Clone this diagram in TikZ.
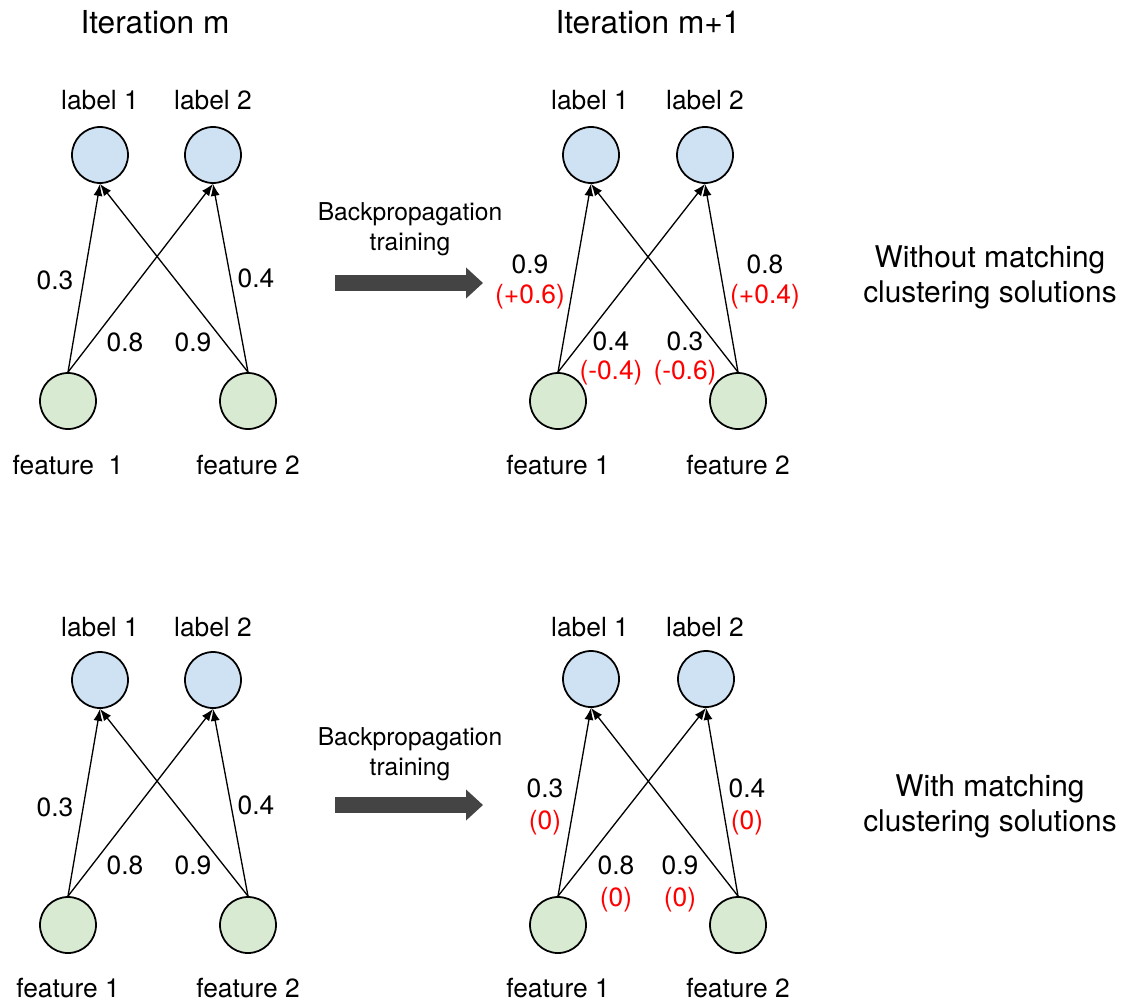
\documentclass[tikz,border=0pt]{standalone}
\usepackage{fontspec}
\setmainfont{TeX Gyre Heros}
\usetikzlibrary{arrows.meta}

\definecolor{lblue}{HTML}{CFE2F3}
\definecolor{lgreen}{HTML}{D9EAD3}
\definecolor{bpgray}{HTML}{444444}

\tikzset{
  outnode/.style={circle, draw, line width=1pt, fill=lblue, minimum size=1.12cm, inner sep=0pt},
  innode/.style={circle, draw, line width=1pt, fill=lgreen, minimum size=1.12cm, inner sep=0pt},
  wedge/.style={-{Latex[length=2.4mm,width=1.8mm]}, line width=0.75pt},
  txt/.style={font=\fontsize{15}{18}\selectfont, inner sep=1pt},
  delta/.style={txt, text=red},
  ttl/.style={font=\fontsize{18}{21}\selectfont},
  side/.style={font=\fontsize{17}{20}\selectfont, align=center},
  bptxt/.style={font=\fontsize{14}{17}\selectfont, align=center},
  bparrow/.style={draw=bpgray, line width=0.32cm, -{Triangle[length=0.34cm,width=0.6cm]}}
}

\begin{document}
\begin{tikzpicture}
      \useasboundingbox (0,0) rectangle (22.52,-20.06);

      % titulos
      \node[ttl] (titm) at (3.1,-0.44) {Iteration m};
      \node[ttl] (titmm) at (12.96,-0.44) {Iteration m+1};

      %%%%%% arriba izquierda
      \node[outnode] (al1) at (2.0,-3.1) {};
      \node[outnode] (al2) at (4.26,-3.1) {};
      \node[innode] (af1) at (1.36,-8.02) {};
      \node[innode] (af2) at (4.96,-8.02) {};
      \node[txt] (tal1) at (2.0,-2.0) {label 1};
      \node[txt] (tal2) at (4.26,-2.0) {label 2};
      \node[txt] (taf1) at (1.36,-9.3) {feature\ \ 1};
      \node[txt] (taf2) at (4.96,-9.3) {feature 2};

      \draw[wedge] (af1.north) -- (al1.south);
      \draw[wedge] (af1.north) -- (al2.south);
      \draw[wedge] (af2.north) -- (al1.south);
      \draw[wedge] (af2.north) -- (al2.south);

      \node[txt] (aw11) at (1.1,-5.6) {0.3};
      \node[txt] (aw22) at (5.12,-5.56) {0.4};
      \node[txt] (aw12) at (2.5,-6.84) {0.8};
      \node[txt] (aw21) at (3.86,-6.84) {0.9};

      % flecha backpropagation arriba
      \coordinate (abp1) at (6.7,-5.66);
      \coordinate (abp2) at (9.66,-5.66);
      \draw[bparrow] (abp1) -- (abp2);
      \node[bptxt] (tabp) at (8.2,-4.58) {Backpropagation\\training};

      %%%%%% arriba derecha
      \node[outnode] (bl1) at (11.82,-3.1) {};
      \node[outnode] (bl2) at (14.1,-3.1) {};
      \node[innode] (bf1) at (11.16,-8.02) {};
      \node[innode] (bf2) at (14.76,-8.02) {};
      \node[txt] (tbl1) at (11.8,-2.0) {label 1};
      \node[txt] (tbl2) at (14.1,-2.0) {label 2};
      \node[txt] (tbf1) at (11.16,-9.3) {feature 1};
      \node[txt] (tbf2) at (14.76,-9.3) {feature 2};

      \draw[wedge] (bf1.north) -- (bl1.south);
      \draw[wedge] (bf1.north) -- (bl2.south);
      \draw[wedge] (bf2.north) -- (bl1.south);
      \draw[wedge] (bf2.north) -- (bl2.south);

      \node[txt] (bw11) at (10.6,-5.28) {0.9};
      \node[delta] (bd11) at (10.6,-5.94) {(+0.6)};
      \node[txt] (bw22) at (15.3,-5.28) {0.8};
      \node[delta] (bd22) at (15.3,-5.94) {(+0.4)};
      \node[txt] (bw12) at (12.22,-6.82) {0.4};
      \node[delta] (bd12) at (12.22,-7.46) {(-0.4)};
      \node[txt] (bw21) at (13.7,-6.82) {0.3};
      \node[delta] (bd21) at (13.7,-7.46) {(-0.6)};

      \node[side] (tsin) at (19.8,-5.55) {Without matching\\clustering solutions};

      %%%%%% abajo izquierda
      \node[outnode] (cl1) at (2.0,-13.6) {};
      \node[outnode] (cl2) at (4.26,-13.6) {};
      \node[innode] (cf1) at (1.36,-18.5) {};
      \node[innode] (cf2) at (4.96,-18.5) {};
      \node[txt] (tcl1) at (2.0,-12.54) {label 1};
      \node[txt] (tcl2) at (4.26,-12.54) {label 2};
      \node[txt] (tcf1) at (1.36,-19.76) {feature 1};
      \node[txt] (tcf2) at (4.96,-19.76) {feature 2};

      \draw[wedge] (cf1.north) -- (cl1.south);
      \draw[wedge] (cf1.north) -- (cl2.south);
      \draw[wedge] (cf2.north) -- (cl1.south);
      \draw[wedge] (cf2.north) -- (cl2.south);

      \node[txt] (cw11) at (1.1,-16.14) {0.3};
      \node[txt] (cw22) at (5.12,-16.1) {0.4};
      \node[txt] (cw12) at (2.5,-17.3) {0.8};
      \node[txt] (cw21) at (3.86,-17.3) {0.9};

      % flecha backpropagation abajo
      \coordinate (cbp1) at (6.7,-16.1);
      \coordinate (cbp2) at (9.66,-16.1);
      \draw[bparrow] (cbp1) -- (cbp2);
      \node[bptxt] (tcbp) at (8.2,-15.08) {Backpropagation\\training};

      %%%%%% abajo derecha
      \node[outnode] (dl1) at (11.82,-13.58) {};
      \node[outnode] (dl2) at (14.12,-13.58) {};
      \node[innode] (df1) at (11.16,-18.5) {};
      \node[innode] (df2) at (14.76,-18.5) {};
      \node[txt] (tdl1) at (11.8,-12.54) {label 1};
      \node[txt] (tdl2) at (14.1,-12.54) {label 2};
      \node[txt] (tdf1) at (11.16,-19.76) {feature 1};
      \node[txt] (tdf2) at (14.76,-19.76) {feature 2};

      \draw[wedge] (df1.north) -- (dl1.south);
      \draw[wedge] (df1.north) -- (dl2.south);
      \draw[wedge] (df2.north) -- (dl1.south);
      \draw[wedge] (df2.north) -- (dl2.south);

      \node[txt] (dw11) at (10.9,-15.76) {0.3};
      \node[delta] (dd11) at (10.9,-16.46) {(0)};
      \node[txt] (dw22) at (14.94,-15.76) {0.4};
      \node[delta] (dd22) at (14.94,-16.46) {(0)};
      \node[txt] (dw12) at (12.32,-17.3) {0.8};
      \node[delta] (dd12) at (12.32,-18.0) {(0)};
      \node[txt] (dw21) at (13.6,-17.3) {0.9};
      \node[delta] (dd21) at (13.6,-18.0) {(0)};

      \node[side] (tcon) at (19.8,-16.12) {With matching\\clustering solutions};

    \end{tikzpicture}
\end{document}
